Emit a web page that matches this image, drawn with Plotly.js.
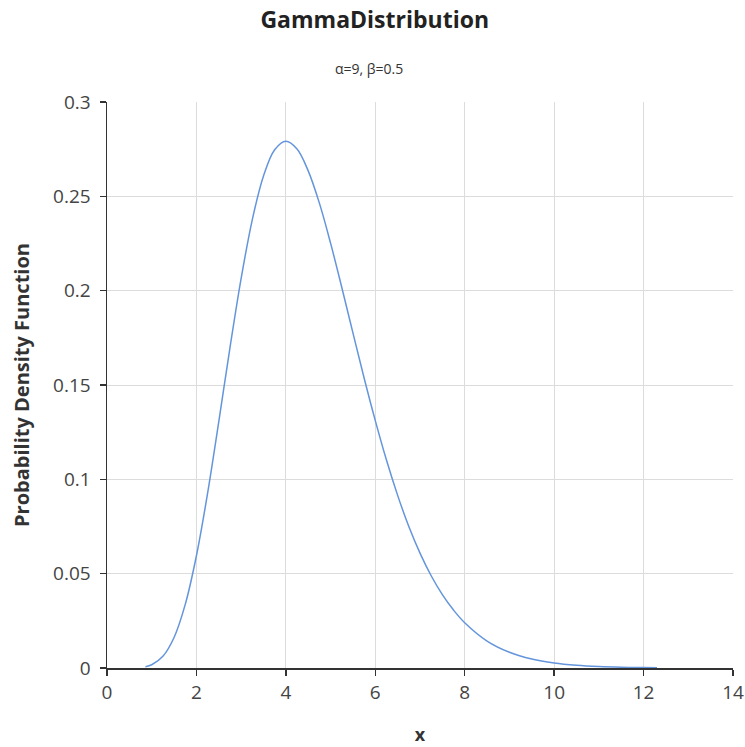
<!DOCTYPE html>
<html>
<head>
<meta charset="utf-8">
<script src="https://cdn.plot.ly/plotly-3.0.1.min.js"></script>
<style>html,body{margin:0;padding:0;background:#fff;}#chart{width:745px;height:747px;}</style>
</head>
<body>
<div id="chart"></div>
<script>
var xValues = [0.86, 1.0, 1.25, 1.5, 1.75, 2.0, 2.25, 2.5, 2.75, 3.0, 3.25, 3.5, 3.75, 4.0, 4.25, 4.5, 4.75, 5.0, 5.25, 5.5, 5.75, 6.0, 6.25, 6.5, 6.75, 7.0, 7.25, 7.5, 7.75, 8.0, 8.5, 9.0, 9.5, 10.0, 10.5, 11.0, 11.5, 12.0, 12.3];
var pdfValues = [0.00068, 0.00172, 0.00621, 0.0162, 0.0337, 0.0595, 0.0927, 0.1306, 0.1697, 0.2065, 0.2377, 0.2608, 0.2747, 0.2792, 0.2751, 0.2635, 0.2464, 0.2252, 0.2018, 0.1776, 0.1537, 0.1311, 0.1102, 0.0915, 0.0750, 0.0609, 0.0489, 0.0389, 0.0307, 0.0240, 0.0143, 0.00833, 0.00472, 0.00262, 0.00142, 0.00076, 0.00040, 0.00021, 0.00014];
var xTicks = [0, 2, 4, 6, 8, 10, 12, 14];
var yTicks = [0, 0.05, 0.1, 0.15, 0.2, 0.25, 0.3];
var yTickLabels = ["0", "0.05", "0.1", "0.15", "0.2", "0.25", "0.3"];

var font = "'Open Sans', 'Noto Sans', sans-serif";

var trace = {
  x: xValues,
  y: pdfValues,
  type: 'scatter',
  mode: 'lines',
  line: {color: '#6495dc', width: 1.5, shape: 'spline'},
  hoverinfo: 'x+y'
};

var layout = {
  width: 745,
  height: 747,
  margin: {l: 107, r: 12, t: 102, b: 79},
  paper_bgcolor: '#fff',
  plot_bgcolor: '#fff',
  showlegend: false,
  font: {family: font, color: '#444'},
  title: {
    text: '<b>GammaDistribution</b>',
    font: {family: font, size: 23, color: '#222'},
    x: 0.503, xanchor: 'center',
    y: 0.973, yanchor: 'middle', yref: 'container'
  },
  annotations: [{
    text: 'α=9, β=0.5',
    xref: 'paper', yref: 'paper',
    x: (369 - 107) / 626, y: 1.0 + (102 - 68) / 566,
    xanchor: 'center', yanchor: 'middle',
    showarrow: false,
    font: {family: font, size: 14, color: '#333'}
  }],
  xaxis: {
    range: [0, 14],
    tickvals: xTicks,
    ticktext: xTicks.map(String),
    showgrid: true,
    gridcolor: '#dcdcdc',
    gridwidth: 1,
    zeroline: false,
    showline: true,
    linecolor: '#333',
    linewidth: 1.5,
    ticks: 'outside',
    ticklen: 6,
    tickwidth: 1.5,
    tickcolor: '#333',
    ticklabelstandoff: 1,
    tickfont: {family: font, size: 19, color: '#444'},
    title: {text: '<b>x</b>', font: {family: font, size: 18, color: '#333'}, standoff: 24}
  },
  yaxis: {
    range: [0, 0.3],
    tickvals: yTicks,
    ticktext: yTickLabels,
    showgrid: true,
    gridcolor: '#dcdcdc',
    gridwidth: 1,
    zeroline: false,
    showline: true,
    linecolor: '#333',
    linewidth: 1.5,
    ticks: 'outside',
    ticklen: 6,
    tickwidth: 1.5,
    tickcolor: '#333',
    ticklabelstandoff: 5,
    tickfont: {family: font, size: 19, color: '#444'},
    title: {text: '<b>Probability Density Function</b>', font: {family: font, size: 20, color: '#333'}, standoff: 18}
  }
};

Plotly.newPlot('chart', [trace], layout, {displayModeBar: false, staticPlot: true});
</script>
</body>
</html>
